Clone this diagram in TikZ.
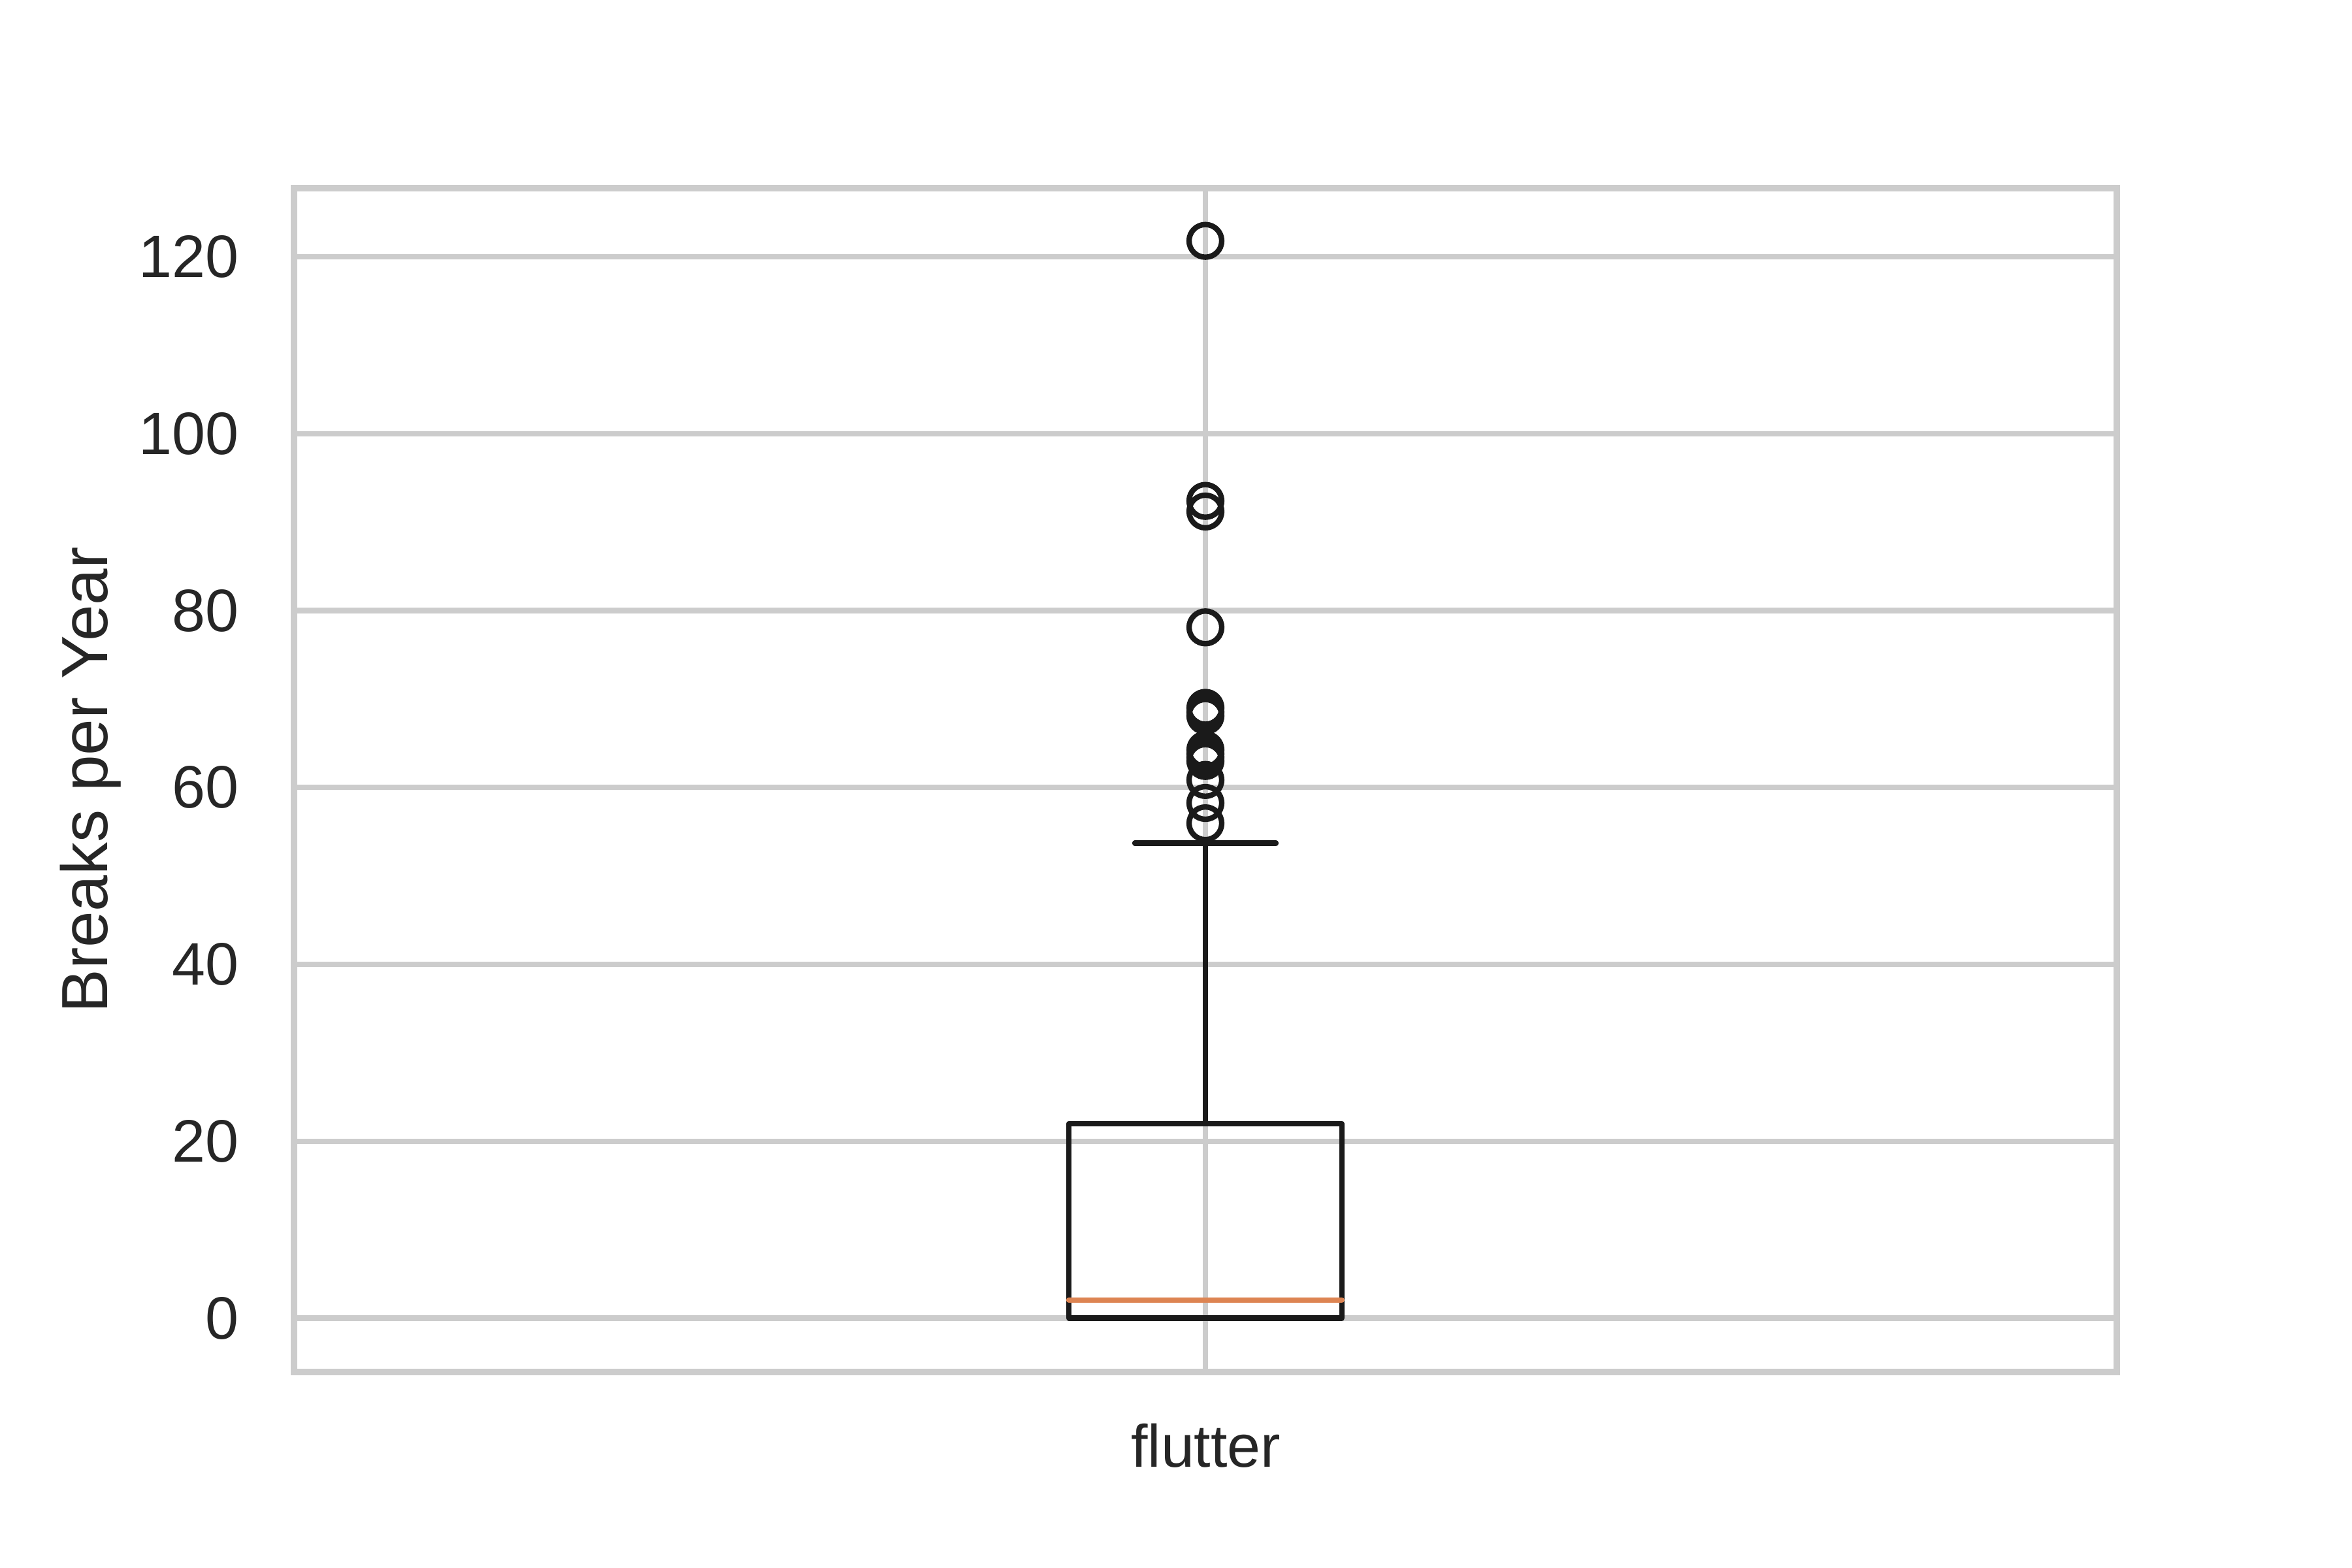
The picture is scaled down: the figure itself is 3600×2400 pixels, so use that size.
\documentclass[tikz,border=0pt]{standalone}
\usepackage{fontspec}
\setmainfont{Liberation Sans}
\definecolor{gridgray}{HTML}{CCCCCC}
\definecolor{txt}{HTML}{262626}
\definecolor{boxblack}{HTML}{1A1A1A}
\definecolor{medorange}{HTML}{DD8452}
\newcommand\py[1]{2017.6-13.538*(#1)}
\begin{document}
\begin{tikzpicture}[x=0.12pt,y=-0.12pt,
  gridline/.style={draw=gridgray,line width=1pt},
  spine/.style={draw=gridgray,line width=1.25pt},
  boxline/.style={draw=boxblack,line width=1pt,line cap=round,line join=round},
  medianline/.style={draw=medorange,line width=1pt,line cap=round},
  flier/.style={circle,draw=boxblack,line width=1pt,minimum size=6pt,inner sep=0pt},
  ticklabel/.style={text=txt,inner sep=0pt,font=\fontsize{11pt}{13pt}\selectfont},
  axlabel/.style={text=txt,inner sep=0pt,font=\fontsize{12pt}{14pt}\selectfont}]
\fill[white] (0,0) rectangle (3600,2400);
\useasboundingbox (0,0) rectangle (3600,2400);
% grid
\foreach \v in {0,20,...,120}{
  \draw[gridline] (450,{\py{\v}}) -- (3240,{\py{\v}});
  \node[ticklabel,anchor=east] (tick\v) at (367,{\py{\v}}) {\v};
}
\draw[gridline] (1845,288) -- (1845,2100);
% box
\coordinate (boxbl) at (1636,{\py{0}});
\coordinate (boxtr) at (2053.7,{\py{22}});
\coordinate (medl) at (1636,{\py{2.06}});
\coordinate (medr) at (2053.7,{\py{2.06}});
\coordinate (whislo) at (1845,{\py{22}});
\coordinate (whishi) at (1845,{\py{53.7}});
\coordinate (capl) at (1737,{\py{53.7}});
\coordinate (capr) at (1953,{\py{53.7}});
\coordinate (lcapl) at (1740,{\py{0}});
\coordinate (lcapr) at (1950,{\py{0}});
\draw[boxline] (boxbl) rectangle (boxtr);
\draw[boxline] (whislo) -- (whishi);
\draw[boxline] (capl) -- (capr);
\draw[boxline] (lcapl) -- (lcapr);
\draw[medianline] (medl) -- (medr);
% fliers
\foreach \v [count=\i] in {55.95,58.25,60.85,63.0,63.4,63.8,64.25,68.1,68.5,69.0,78.1,91.2,92.4,121.8}{
  \node[flier] (fl\i) at (1845,{\py{\v}}) {};
}
% spines
\draw[spine] (450,288) rectangle (3240,2100);
% labels
\node[axlabel,rotate=90,anchor=base] (ylab) at (164,1194) {Breaks per Year};
\node[ticklabel,anchor=base] (xlab) at (1845.8,2245.3) {flutter};
\end{tikzpicture}
\end{document}
